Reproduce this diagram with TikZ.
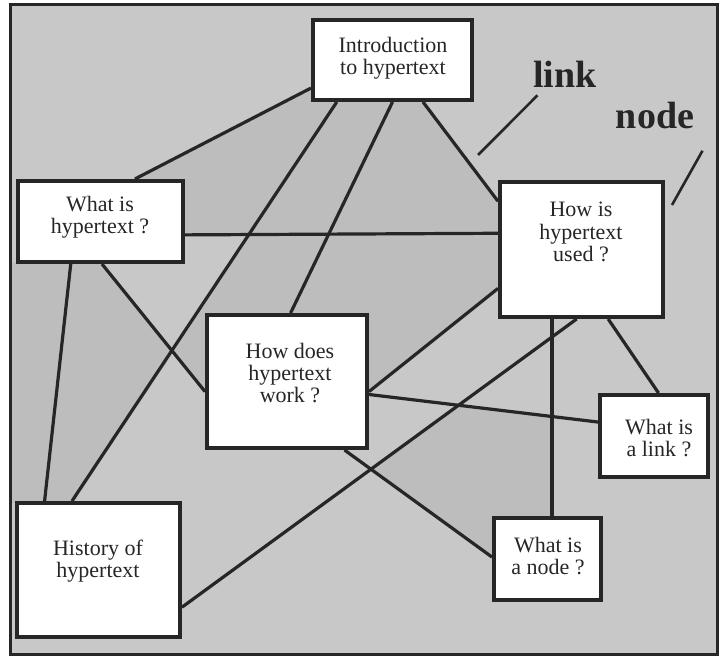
\documentclass[tikz,border=0pt]{standalone}
\usepackage{fontspec}
\setmainfont{Liberation Serif}
\usetikzlibrary{calc}
\definecolor{Ink}{HTML}{262626}
\definecolor{Sheet}{HTML}{C8C8C8}
\definecolor{Dots}{HTML}{BDBDBD}
\definecolor{Card}{HTML}{FFFFFF}
\tikzset{
  topicbox/.style={draw=Ink,fill=Card,line width=2pt,inner sep=0pt},
  topictext/.style={align=center,inner sep=0pt,text=Ink,font=\fontsize{11}{11.2}\selectfont},
  linkline/.style={draw=Ink,line width=1.6pt},
  taglabel/.style={inner sep=0pt,text=Ink,font=\fontsize{19}{19}\selectfont\bfseries},
  pointer/.style={draw=Ink,line width=1.3pt}
}

\begin{document}
\begin{tikzpicture}[x=0.5pt,y=-0.5pt]
  \useasboundingbox (0,0) rectangle (721,658);
  \fill[white] (0,0) rectangle (721,658);
  \fill[Sheet] (10,5) rectangle (717,654);
  % darker halftone patches
  \fill[Dots] (313,100) -- (313,88) -- (133,181) -- (183,181) -- (183,234) -- (500,234) -- (500,203) -- (422,100) -- cycle;
  \fill[Dots] (251,234) -- (500,234) -- (500,288) -- (368,391) -- (207,392) -- (174,351) -- cycle;
  \fill[Dots] (10,262) -- (102,262) -- (174,351) -- (73,503) -- (10,503) -- cycle;
  \fill[Dots] (370,468) -- (456,405) -- (553,417) -- (553,518) -- (494,518) -- (494,557) -- cycle;
  \draw[Ink,line width=1.5pt] (10,5) rectangle (717,654);

  % topics
  \node[topicbox,minimum width=79.5pt,minimum height=40pt] (intro) at (392.5,60) {};
  \node[topicbox,minimum width=82.5pt,minimum height=40.5pt] (whatis) at (100.5,221.5) {};
  \node[topicbox,minimum width=81.5pt,minimum height=67.5pt] (used) at (581.5,249.5) {};
  \node[topicbox,minimum width=80pt,minimum height=66.5pt] (work) at (287,381.5) {};
  \node[topicbox,minimum width=54pt,minimum height=41pt] (linkq) at (654,436) {};
  \node[topicbox,minimum width=53.5pt,minimum height=41pt] (nodeq) at (547.5,559) {};
  \node[topicbox,minimum width=81.5pt,minimum height=67pt] (hist) at (98.5,570) {};

  \node[topictext] (introtext) at (393,58.5) {Introduction\\to hypertext};
  \node[topictext] (whatistext) at (100,217) {What is\\hypertext ?};
  \node[topictext] (usedtext) at (581,232) {How is\\hypertext\\used ?};
  \node[topictext] (worktext) at (290,373) {How does\\hypertext\\work ?};
  \node[topictext] (linkqtext) at (659,438) {What is\\a link ?};
  \node[topictext] (nodeqtext) at (548,556) {What is\\a node ?};
  \node[topictext] (histtext) at (98,561) {History of\\hypertext};

  % links between topics
  \draw[linkline] (intro.199) -- (whatis.51);
  \draw[linkline] (intro.306) -- (used.150);
  \draw[linkline] (intro.217) -- (hist.111);
  \draw[linkline] (intro.270) -- (work.87);
  \draw[linkline] (whatis.351) -- (used.169);
  \draw[linkline] (whatis.235) -- (hist.128);
  \draw[linkline] (whatis.272) -- (work.187);
  \draw[linkline] (used.266) -- (hist.336);
  \draw[linkline] (used.205) -- (work.353);
  \draw[linkline] (work.351) -- (linkq.166);
  \draw[linkline] (used.247) -- (used.247 |- nodeq.north);
  \draw[linkline] (used.291) -- (linkq.84);
  \draw[linkline] (work.310) -- (nodeq.178);

  % callouts
  \node[taglabel,anchor=base] (linklbl) at (565,88) {link};
  \node[taglabel,anchor=base] (nodelbl) at (655,128) {node};
  \coordinate (linktip) at (478,155);
  \coordinate (nodetip) at (672,205);
  \draw[pointer] ($(linklbl.south west)+(4.5,7)$) -- (linktip);
  \draw[pointer] ($(nodelbl.south east)+(8,22)$) -- (nodetip);
\end{tikzpicture}
\end{document}
